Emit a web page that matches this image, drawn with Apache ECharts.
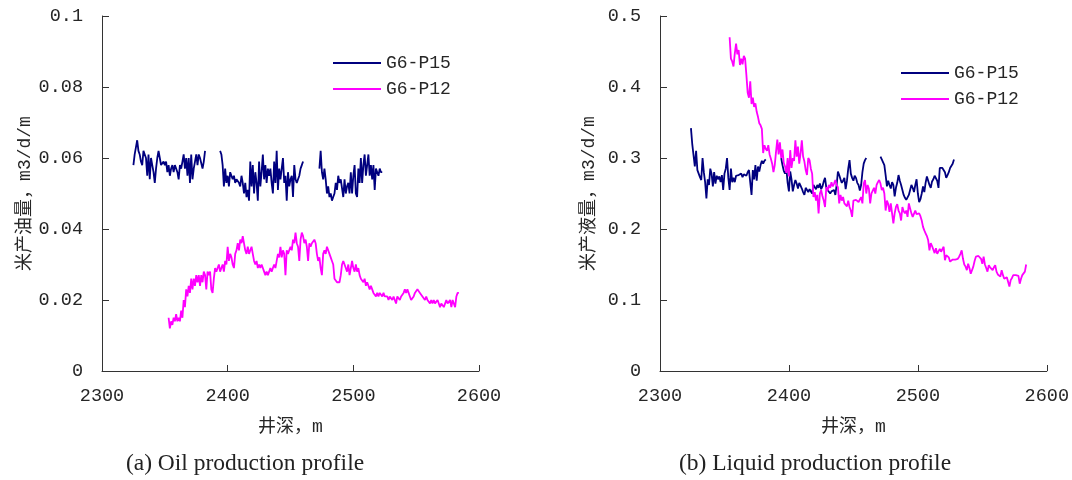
<!DOCTYPE html>
<html>
<head>
<meta charset="utf-8">
<script src="https://cdn.jsdelivr.net/npm/echarts@6/dist/echarts.min.js"></script>
<style>
html,body{margin:0;padding:0;background:#fff;}
#chart{width:1072px;height:480px;}
</style>
</head>
<body>
<div id="chart"></div>
<script>
// ---- Data (well depth in m, sampled every 1 m; values in m3/d/m) ----
const xTicks = [2300, 2400, 2500, 2600];
const seriesNames = ['G6-P15', 'G6-P12'];
const captions = ['(a) Oil production profile', '(b) Liquid production profile'];
const yNames = ['米产油量，m3/d/m', '米产液量，m3/d/m'];
const xName = '井深，m';
const sampleStep = 1;

// (a) oil, G6-P15 (three logged intervals)
const oilP15Start = [2325, 2394, 2473];
const oilP15Seg1 = [0.058,0.061,0.063,0.065,0.062,0.061,0.059,0.058,0.062,0.061,
  0.060,0.055,0.061,0.054,0.060,0.058,0.056,0.053,0.057,0.060,
  0.062,0.060,0.058,0.058,0.059,0.058,0.059,0.056,0.058,0.055,
  0.057,0.058,0.056,0.058,0.057,0.056,0.054,0.058,0.057,0.059,
  0.061,0.057,0.060,0.055,0.060,0.053,0.061,0.054,0.057,0.059,
  0.061,0.058,0.061,0.060,0.060,0.057,0.059,0.062];
const oilP15Seg2 = [0.062,0.061,0.058,0.052,0.057,0.053,0.055,0.052,0.056,0.055,
  0.054,0.055,0.053,0.054,0.054,0.053,0.052,0.055,0.053,0.050,
  0.053,0.049,0.051,0.048,0.059,0.052,0.058,0.050,0.056,0.053,
  0.048,0.059,0.052,0.056,0.061,0.054,0.058,0.053,0.057,0.055,
  0.057,0.053,0.050,0.059,0.053,0.062,0.051,0.057,0.054,0.057,
  0.060,0.053,0.055,0.048,0.056,0.052,0.054,0.055,0.049,0.058,
  0.054,0.053,0.054,0.055,0.057,0.058,0.059];
const oilP15Seg3 = [0.057,0.062,0.056,0.054,0.057,0.054,0.050,0.052,0.049,0.050,
  0.048,0.049,0.050,0.053,0.051,0.055,0.053,0.054,0.054,0.049,
  0.054,0.050,0.052,0.053,0.050,0.056,0.050,0.055,0.058,0.050,
  0.049,0.057,0.053,0.060,0.053,0.058,0.061,0.055,0.058,0.061,
  0.055,0.058,0.054,0.058,0.051,0.057,0.056,0.055,0.057,0.056,
  0.056];

// (a) oil, G6-P12
const oilP12Start = [2353];
const oilP12Seg1 = [0.015,0.012,0.014,0.013,0.015,0.014,0.016,0.014,0.015,0.014,
  0.017,0.015,0.020,0.018,0.023,0.021,0.024,0.022,0.026,0.023,
  0.026,0.024,0.027,0.025,0.027,0.024,0.027,0.025,0.028,0.027,
  0.023,0.028,0.027,0.028,0.023,0.022,0.026,0.029,0.028,0.029,
  0.030,0.028,0.029,0.030,0.028,0.031,0.030,0.035,0.031,0.033,
  0.032,0.030,0.029,0.033,0.034,0.036,0.034,0.037,0.036,0.038,
  0.038,0.034,0.033,0.035,0.033,0.034,0.035,0.033,0.031,0.030,
  0.031,0.029,0.030,0.029,0.030,0.029,0.028,0.027,0.028,0.027,
  0.028,0.029,0.028,0.029,0.030,0.029,0.031,0.033,0.032,0.035,
  0.032,0.034,0.033,0.027,0.034,0.033,0.034,0.035,0.034,0.037,
  0.036,0.039,0.036,0.035,0.031,0.037,0.039,0.038,0.036,0.037,
  0.035,0.031,0.036,0.035,0.036,0.036,0.037,0.036,0.033,0.031,
  0.032,0.029,0.027,0.033,0.034,0.033,0.035,0.034,0.033,0.032,
  0.031,0.030,0.026,0.026,0.025,0.025,0.025,0.027,0.030,0.031,
  0.030,0.029,0.028,0.030,0.027,0.029,0.031,0.029,0.028,0.030,
  0.028,0.029,0.027,0.026,0.026,0.025,0.026,0.024,0.025,0.024,
  0.023,0.024,0.023,0.022,0.022,0.021,0.022,0.021,0.022,0.022,
  0.021,0.022,0.021,0.021,0.021,0.020,0.021,0.021,0.020,0.021,
  0.021,0.019,0.021,0.021,0.020,0.021,0.021,0.022,0.023,0.022,
  0.023,0.022,0.021,0.020,0.020,0.021,0.022,0.022,0.023,0.023,
  0.022,0.022,0.021,0.021,0.020,0.021,0.020,0.020,0.019,0.020,
  0.019,0.020,0.019,0.019,0.020,0.019,0.018,0.019,0.019,0.018,
  0.018,0.020,0.019,0.019,0.020,0.018,0.020,0.020,0.018,0.021,
  0.022,0.022];

// (b) liquid, G6-P15
const liqP15Start = [2324, 2394, 2471];
const liqP15Seg1 = [0.342,0.320,0.322,0.288,0.310,0.283,0.285,0.273,0.269,0.300,
  0.280,0.266,0.243,0.270,0.262,0.285,0.278,0.260,0.280,0.264,
  0.275,0.270,0.274,0.266,0.276,0.255,0.278,0.285,0.300,0.272,
  0.255,0.285,0.266,0.272,0.266,0.275,0.273,0.276,0.274,0.278,
  0.273,0.277,0.279,0.275,0.280,0.283,0.282,0.248,0.283,0.270,
  0.290,0.268,0.288,0.281,0.290,0.296,0.292,0.296,0.298];
const liqP15Seg2 = [0.300,0.290,0.282,0.278,0.285,0.265,0.253,0.281,0.270,0.253,
  0.262,0.269,0.264,0.257,0.265,0.261,0.257,0.252,0.248,0.258,
  0.260,0.252,0.256,0.258,0.250,0.262,0.264,0.256,0.262,0.258,
  0.264,0.256,0.260,0.267,0.272,0.258,0.255,0.257,0.250,0.253,
  0.252,0.255,0.248,0.262,0.281,0.276,0.270,0.265,0.268,0.272,
  0.256,0.268,0.285,0.297,0.278,0.272,0.268,0.275,0.272,0.265,
  0.262,0.254,0.262,0.280,0.292,0.297,0.300];
const liqP15Seg3 = [0.302,0.298,0.296,0.290,0.276,0.260,0.268,0.262,0.257,0.266,
  0.262,0.246,0.258,0.265,0.276,0.268,0.262,0.255,0.248,0.244,
  0.241,0.243,0.248,0.255,0.262,0.258,0.252,0.262,0.270,0.250,
  0.238,0.242,0.250,0.260,0.252,0.265,0.274,0.268,0.262,0.258,
  0.267,0.270,0.275,0.277,0.268,0.258,0.286,0.288,0.286,0.288,
  0.280,0.272,0.276,0.280,0.286,0.284,0.292,0.298];

// (b) liquid, G6-P12
const liqP12Start = [2354];
const liqP12Seg1 = [0.470,0.440,0.436,0.429,0.447,0.461,0.446,0.452,0.431,0.440,
  0.432,0.444,0.440,0.417,0.392,0.385,0.408,0.376,0.385,0.372,
  0.377,0.365,0.358,0.349,0.346,0.341,0.307,0.318,0.313,0.310,
  0.318,0.305,0.299,0.292,0.280,0.290,0.309,0.326,0.305,0.322,
  0.300,0.312,0.293,0.288,0.279,0.300,0.274,0.311,0.286,0.300,
  0.296,0.325,0.302,0.316,0.292,0.306,0.325,0.302,0.295,0.283,
  0.276,0.300,0.297,0.285,0.278,0.245,0.252,0.240,0.248,0.222,
  0.250,0.255,0.246,0.240,0.231,0.259,0.254,0.262,0.258,0.266,
  0.260,0.264,0.269,0.262,0.259,0.236,0.248,0.240,0.245,0.236,
  0.236,0.232,0.240,0.231,0.226,0.217,0.240,0.238,0.241,0.240,
  0.238,0.240,0.245,0.236,0.264,0.269,0.250,0.262,0.257,0.236,
  0.250,0.254,0.258,0.250,0.262,0.266,0.269,0.264,0.255,0.258,
  0.250,0.226,0.240,0.235,0.224,0.236,0.222,0.208,0.222,0.231,
  0.235,0.226,0.222,0.212,0.231,0.225,0.222,0.226,0.217,0.236,
  0.229,0.222,0.217,0.219,0.226,0.221,0.220,0.222,0.218,0.212,
  0.203,0.198,0.194,0.190,0.184,0.170,0.180,0.176,0.175,0.166,
  0.173,0.165,0.163,0.172,0.168,0.166,0.175,0.156,0.163,0.164,
  0.160,0.154,0.156,0.157,0.156,0.157,0.156,0.158,0.161,0.165,
  0.170,0.158,0.150,0.147,0.142,0.151,0.145,0.137,0.135,0.147,
  0.155,0.161,0.163,0.162,0.160,0.158,0.151,0.161,0.150,0.145,
  0.140,0.149,0.146,0.145,0.142,0.146,0.149,0.140,0.136,0.135,
  0.133,0.142,0.135,0.130,0.128,0.132,0.130,0.119,0.128,0.131,
  0.135,0.134,0.135,0.133,0.134,0.123,0.130,0.135,0.136,0.140,
  0.150];

// ---- Build [depth, value] pairs; a '-' point breaks the line between intervals ----
function build(starts, segs) {
  const out = [];
  segs.forEach(function (vals, k) {
    if (k > 0) out.push([starts[k] - sampleStep, '-']);
    vals.forEach(function (v, i) { out.push([starts[k] + i * sampleStep, v]); });
  });
  return out;
}
const oilP15 = build(oilP15Start, [oilP15Seg1, oilP15Seg2, oilP15Seg3]);
const oilP12 = build(oilP12Start, [oilP12Seg1]);
const liqP15 = build(liqP15Start, [liqP15Seg1, liqP15Seg2, liqP15Seg3]);
const liqP12 = build(liqP12Start, [liqP12Seg1]);

// ---- Styling ----
const NAVY = '#00007f';
const MAGENTA = '#ff00ff';
const TXT = '#262626';
const MONO = '"Liberation Mono", "Noto Sans CJK SC", monospace';

function xAxisCfg(idx) {
  return {
    gridIndex: idx, type: 'value', min: xTicks[0], max: xTicks[xTicks.length - 1], interval: 100,
    name: xName, nameLocation: 'middle', nameGap: 47,
    nameTextStyle: { fontFamily: MONO, fontSize: 18, color: TXT },
    axisLine: { show: true, onZero: false, lineStyle: { color: '#333', width: 1 } },
    axisTick: { show: true, inside: true, length: 6, lineStyle: { color: '#333' } },
    axisLabel: { margin: 16, fontFamily: MONO, fontSize: 18.5, color: TXT,
      formatter: function (v) { return String(v); } },
    splitLine: { show: false }
  };
}
function yAxisCfg(idx, max, interval, gap) {
  return {
    gridIndex: idx, type: 'value', min: 0, max: max, interval: interval,
    name: yNames[idx], nameLocation: 'middle', nameGap: gap, nameRotate: 90,
    nameTextStyle: { fontFamily: MONO, fontSize: 18, color: TXT },
    axisLine: { show: true, lineStyle: { color: '#333', width: 1 } },
    axisTick: { show: true, inside: true, length: 7, lineStyle: { color: '#333' } },
    axisLabel: { margin: 19, fontFamily: MONO, fontSize: 18.5, color: TXT },
    splitLine: { show: false }
  };
}
function lineSeries(name, data, color, idx) {
  return {
    name: name, type: 'line', data: data, xAxisIndex: idx, yAxisIndex: idx,
    symbol: 'none', connectNulls: false, lineStyle: { color: color, width: 1.8 },
    itemStyle: { color: color }
  };
}
function legendCfg(left, top) {
  return {
    data: seriesNames, orient: 'vertical', left: left, top: top, padding: 0,
    icon: 'rect', itemWidth: 48, itemHeight: 2, itemGap: 8,
    textStyle: { fontFamily: MONO, fontSize: 18, color: TXT, lineHeight: 18 },
    selectedMode: false
  };
}

const chart = echarts.init(document.getElementById('chart'), null, { renderer: 'canvas' });
chart.setOption({
  animation: false,
  backgroundColor: '#fff',
  grid: [
    { left: 102, top: 16, width: 377, height: 355 },
    { left: 660, top: 16, width: 389, height: 355 }
  ],
  xAxis: [xAxisCfg(0), xAxisCfg(1)],
  yAxis: [yAxisCfg(0, 0.1, 0.02, 68), yAxisCfg(1, 0.5, 0.1, 62)],
  legend: [legendCfg(333, 54), legendCfg(901, 64)],
  series: [
    lineSeries(seriesNames[0], oilP15, NAVY, 0),
    lineSeries(seriesNames[1], oilP12, MAGENTA, 0),
    lineSeries(seriesNames[0], liqP15, NAVY, 1),
    lineSeries(seriesNames[1], liqP12, MAGENTA, 1)
  ],
  graphic: [
    { type: 'text', x: 245, y: 464, style: { text: captions[0], textAlign: 'center', textVerticalAlign: 'middle', font: '23.5px "Liberation Serif", serif', fill: '#222' } },
    { type: 'text', x: 815, y: 464, style: { text: captions[1], textAlign: 'center', textVerticalAlign: 'middle', font: '23.5px "Liberation Serif", serif', fill: '#222' } }
  ]
});
</script>
</body>
</html>
